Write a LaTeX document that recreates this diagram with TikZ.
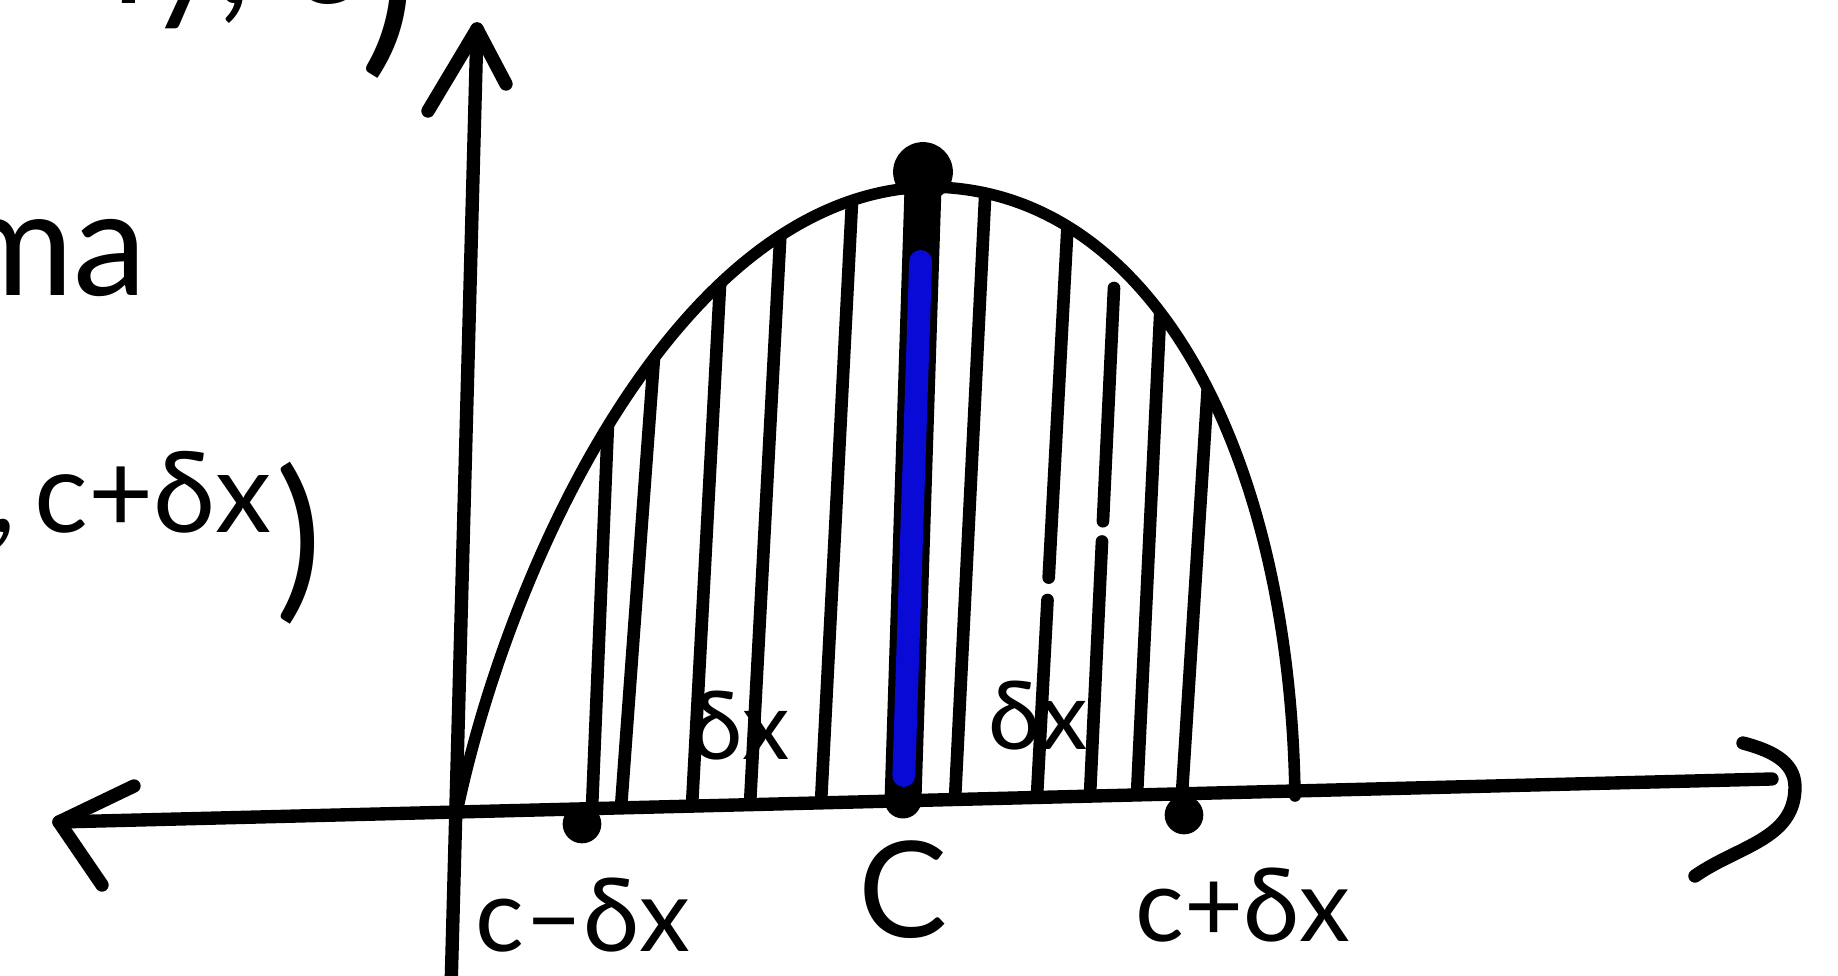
\documentclass[tikz,border=0pt]{standalone}
\usepackage{fontspec}
\setmainfont{Lato}
\usetikzlibrary{calc}
\definecolor{barblue}{RGB}{10,10,215}
\begin{document}
\begin{tikzpicture}[x=0.01cm,y=-0.01cm,line cap=round,line join=round,
    ink/.style={line width=3.6pt},
    axis/.style={line width=3.8pt},
    lbl/.style={inner sep=0pt,font=\fontsize{29}{32}\selectfont},
    note/.style={inner sep=0pt,font=\fontsize{42}{46}\selectfont}]
  \useasboundingbox (0,0) rectangle (1838,976); \clip (0,0) rectangle (1838,976);
  % axes
  \coordinate (O) at (457,812); \coordinate (xl) at (59,822); \coordinate (xr) at (1772,779);
  \coordinate (yb) at (451,990); \coordinate (yt) at (477,29);
  \draw[axis] (xl) -- (xr) (yb) -- (yt);
  \draw[axis] (134,786) -- (xl) -- (102,885);
  \draw[axis] (428,111) -- (yt) -- (506,84);
  \draw[axis] (1743,743) to[out=-15,in=90] (1795,787) to[out=-90,in=35] (1695,876);
  % curve
  \coordinate (pk) at (926,187); \coordinate (E) at (1295,796);
  \def\hump{(O) .. controls (510,560) and (680,195) .. (pk) .. controls (1150,185) and (1290,450) .. (E)}
  \draw[line width=3.3pt] \hump;
  % strips
  \begin{scope}
    \clip \hump -- cycle;
    \foreach \bx/\tx/\ty in {592/607/447, 621/653/371, 692/719/304, 750/780/242,
        821/852/202, 955/985/199, 1137/1160/318, 1182/1207/400}{
      \pgfmathsetmacro{\by}{822-(\bx-59)*0.0255}
      \draw[ink] (\bx,\by) -- ($(\bx,\by)!1.6!(\tx,\ty)$);}
    \coordinate (s7b) at (1037,796); \coordinate (s7t) at (1067,236);
    \draw[ink] (s7b) -- ($(s7b)!0.35!(s7t)$) ($(s7b)!0.39!(s7t)$) -- ($(s7b)!1.3!(s7t)$);
  \end{scope}
  \coordinate (s8b) at (1090,795); \coordinate (s8t) at (1114,288);
  \draw[ink] (s8b) -- ($(s8b)!0.50!(s8t)$) ($(s8b)!0.54!(s8t)$) -- (s8t);
  % strip at c
  \coordinate (cb) at (903,800); \coordinate (ct) at (923,188);
  \draw[line width=10.5pt] (cb) -- (ct);
  \draw[barblue,line width=6.5pt] ($(cb)!0.04!(ct)$) -- ($(cb)!0.88!(ct)$);
  \fill (923,172) circle (8.5pt);
  \fill (582,824) circle (5.5pt); \fill (1184,815) circle (5.5pt);
  % labels
  \node[lbl] (cm) at (583,915) {c–δx};
  \node[lbl,font=\fontsize{38}{40}\selectfont] (c) at (903,890) {C};
  \node[lbl] (cp) at (1243,905) {c+δx};
  \node[lbl,font=\fontsize{27}{30}\selectfont] (dl) at (740,726) {δx};
  \node[lbl,font=\fontsize{27}{30}\selectfont] (dr) at (1038,716) {δx};
  \node[note,anchor=base east] (ma) at (148,296) {ma};
  \node[note,font=\fontsize{32}{36}\selectfont,anchor=base west] (cd) at (-10,532)
    {,\,c+δx\kern1pt\raisebox{-19pt}{\fontsize{50}{50}\selectfont)}};
  \node[note,anchor=base east] (tp) at (418,4) {ly, c\raisebox{-12pt}{\fontsize{62}{62}\selectfont)}};
\end{tikzpicture}
\end{document}
